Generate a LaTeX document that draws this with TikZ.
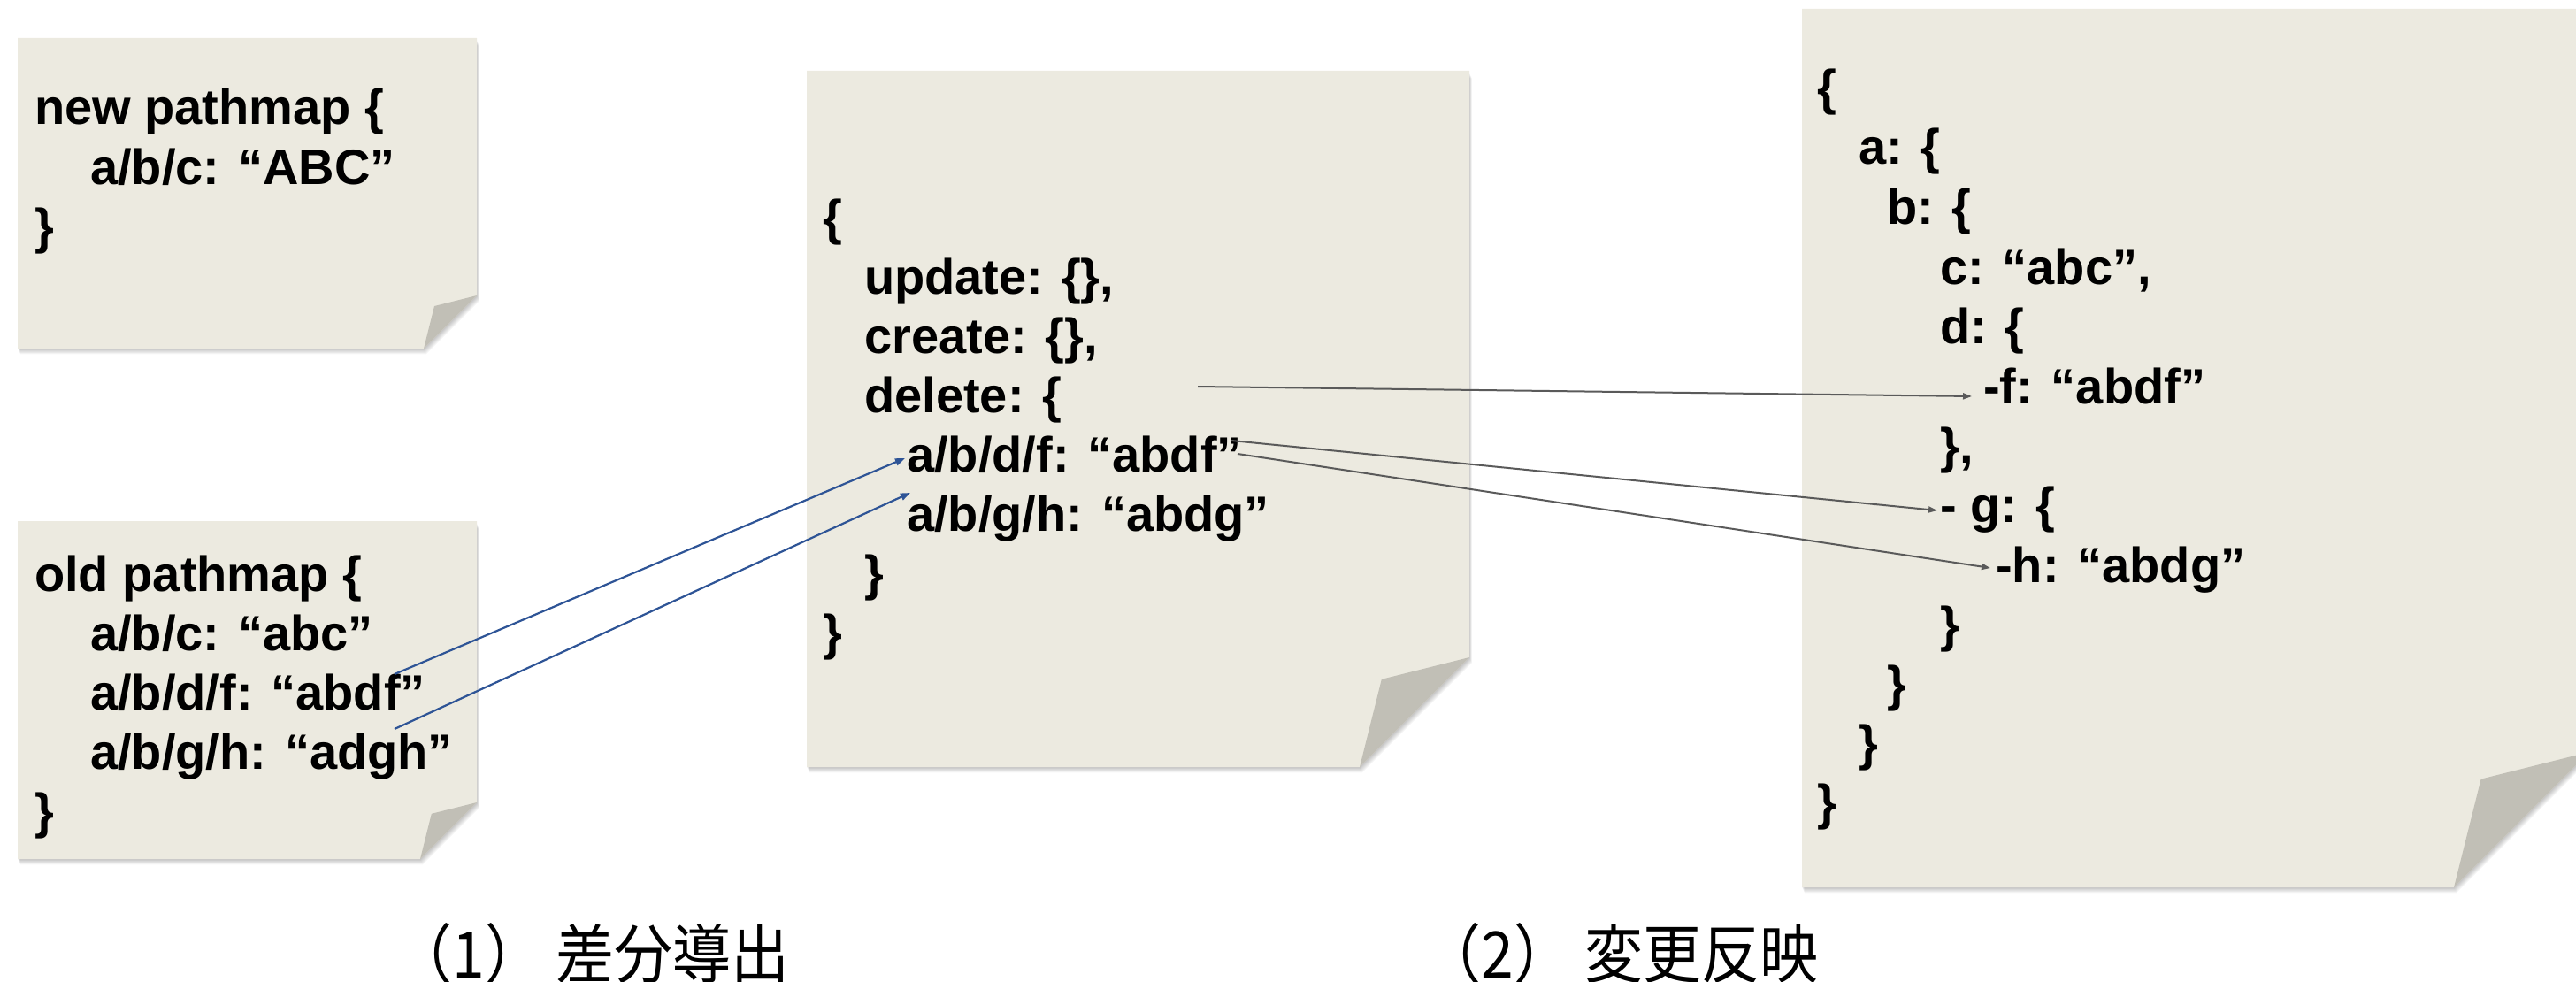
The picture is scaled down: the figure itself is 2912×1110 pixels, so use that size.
\documentclass[tikz,border=0pt]{standalone}
\usepackage{fontspec}
\setmainfont{Liberation Sans}
\newfontfamily\cjkfont{Noto Sans CJK JP}
\usetikzlibrary{arrows.meta}

\definecolor{notefill}{RGB}{236,234,224}
\definecolor{flapfill}{RGB}{193,191,182}
\definecolor{linkblue}{RGB}{46,84,150}
\definecolor{linkgray}{RGB}{90,90,90}

\tikzset{
  code/.style={anchor=base west, inner sep=0pt, text=black,
    font=\fontsize{56}{67}\selectfont\bfseries},
  caption/.style={anchor=base east, inner sep=0pt, text=black, yscale=1.1,
    font=\cjkfont\fontsize{66}{80}\selectfont},
  bluelink/.style={draw=linkblue, line width=2.2pt,
    -{Triangle[length=11pt,width=8pt]}},
  graylink/.style={draw=linkgray, line width=2pt,
    -{Triangle[length=10pt,width=7pt]}},
}

% sticky note: left, top, right, bottom, size of the curled corner
\newcommand\stickynote[5]{%
  \foreach \k in {1,...,7}{%
    \fill[black, opacity=0.035, shift={(0.4*\k,0.9*\k)}]
      (#1,#2+2) -- (#3,#2+2) -- (#3,#4-#5) -- (#3-#5,#4) -- (#1,#4) -- cycle;
  }
  \fill[notefill] (#1,#2) -- (#3,#2) -- (#3,#4-#5) -- (#3-#5,#4) -- (#1,#4) -- cycle;
  \fill[flapfill] (#3-#5,#4) -- (#3-0.8*#5,#4-0.8*#5) -- (#3,#4-#5) -- cycle;
}

\begin{document}
\begin{tikzpicture}[x=1pt, y=-1pt]
\useasboundingbox (0,0) rectangle (2912,1110);
\clip (0,0) rectangle (2912,1110);

% notes
\stickynote{20}{43}{539}{394}{60}
\stickynote{20}{589}{539}{971}{64}
\stickynote{912}{80}{1661}{867}{124}
\stickynote{2037}{10}{2927}{1003}{153}

% new pathmap
\node[code] (n1) at (39,141) {new pathmap \{};
\node[code] (n2) at (102,208) {a/b/c: “ABC”};
\node[code] (n3) at (39,275) {\}};

% old pathmap
\node[code] (o1) at (39,668) {old pathmap \{};
\node[code] (o2) at (102,735) {a/b/c: “abc”};
\node[code] (o3) at (102,802) {a/b/d/f: “abdf”};
\node[code] (o4) at (102,869) {a/b/g/h: “adgh”};
\node[code] (o5) at (39,936) {\}};

% diff
\node[code] (m0) at (930,265) {\{};
\node[code] (m1) at (977,332) {update: \{\},};
\node[code] (m2) at (977,399) {create: \{\},};
\node[code] (m3) at (977,466) {delete: \{};
\node[code] (m4) at (1025,533) {a/b/d/f: “abdf”};
\node[code] (m5) at (1025,600) {a/b/g/h: “abdg”};
\node[code] (m6) at (977,667) {\}};
\node[code] (m7) at (930,734) {\}};

% tree after applying the diff
\node[code] (r0) at (2054,119) {\{};
\node[code] (r1) at (2101,186) {a: \{};
\node[code] (r2) at (2133,253) {b: \{};
\node[code] (r3) at (2193,321) {c: “abc”,};
\node[code] (r4) at (2193,388) {d: \{};
\node[code] (r5) at (2242,456) {-f: “abdf”};
\node[code] (r6) at (2193,523) {\},};
\node[code] (r7) at (2193,590) {- g: \{};
\node[code] (r8) at (2256,658) {-h: “abdg”};
\node[code] (r9) at (2193,725) {\}};
\node[code] (r10) at (2133,792) {\}};
\node[code] (r11) at (2101,859) {\}};
\node[code] (r12) at (2054,926) {\}};

% captions
\node[caption] (cap1) at (893,1105) {（1） 差分導出};
\node[caption] (cap2) at (2056,1105) {（2） 変更反映};

% connector ends
\coordinate (oldf) at (446,762);
\coordinate (oldh) at (446,824);
\coordinate (diffin1) at (1023,518);
\coordinate (diffin2) at (1029,557);
\coordinate (delout) at (1354,437);
\coordinate (fout) at (1392,498);
\coordinate (hout) at (1399,513);
\coordinate (fin) at (2229,448);
\coordinate (gin) at (2190,577);
\coordinate (hin) at (2250,642);

\draw[bluelink] (oldf) -- (diffin1);
\draw[bluelink] (oldh) -- (diffin2);
\draw[graylink] (delout) -- (fin);
\draw[graylink] (fout) -- (gin);
\draw[graylink] (hout) -- (hin);
\end{tikzpicture}
\end{document}
